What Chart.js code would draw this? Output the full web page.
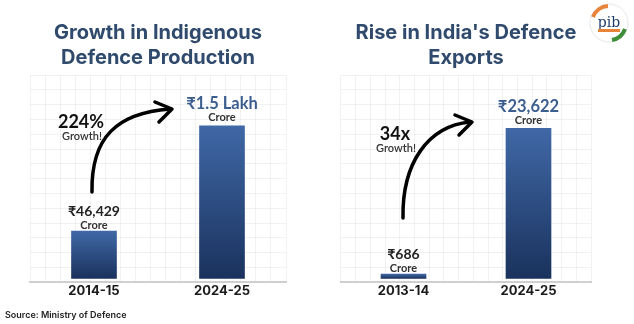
<!DOCTYPE html>
<html lang="en">
<head>
    <meta charset="UTF-8">
    <title>Defence Production and Exports</title>
    <script src="https://cdn.jsdelivr.net/npm/chart.js"></script>
    <style>
        body {
            margin: 0;
            padding: 0;
            background: #ffffff;
            font-family: Inter, "Noto Sans", sans-serif;
        }
        .wrap {
            position: relative;
            width: 634px;
            height: 324px;
            overflow: hidden;
        }
        .panel {
            position: absolute;
            top: 0;
            height: 324px;
        }
        #left { left: 0; width: 317px; }
        #right { left: 314px; width: 294px; }
        .source {
            position: absolute;
            left: 5px;
            top: 309px;
            font-size: 9px;
            font-weight: 600;
            color: #222;
        }
        .logo {
            position: absolute;
            left: 588px;
            top: 2px;
        }
    </style>
</head>
<body>
<div class="wrap">
    <div class="panel" id="left"><canvas id="prodChart"></canvas></div>
    <div class="panel" id="right"><canvas id="exportChart"></canvas></div>
    <div class="source">Source: Ministry of Defence</div>
    <svg class="logo" width="42" height="42" viewBox="0 0 42 42">
        <circle cx="21" cy="21" r="19" fill="#fff" stroke="#e6e6e6" stroke-width="1"/>
        <path d="M5 15 A17 17 0 0 1 20 4" stroke="#e8833a" stroke-width="4" fill="none"/>
        <path d="M37 27 A17 17 0 0 1 24 38" stroke="#3f8f3a" stroke-width="4" fill="none"/>
        <text x="21" y="25" text-anchor="middle" font-family="DejaVu Serif" font-size="14" fill="#1f3a6b">pib</text>
        <rect x="10" y="27" width="22" height="3" fill="#e8833a"/>
    </svg>
</div>

<script>
    // left panel
    const prodYears = ['2014-15', '2024-25'];
    const prodValues = [46429, 150000];          // ₹ crore
    const prodLabels = ['₹46,429', '₹1.5 Lakh'];
    const prodTitle = ['Growth in Indigenous', 'Defence Production'];
    const prodGrowth = ['224%', 'Growth!'];

    // right panel
    const expYears = ['2013-14', '2024-25'];
    const expValues = [686, 23622];              // ₹ crore
    const expLabels = ['₹686', '₹23,622'];
    const expTitle = ["Rise in India's Defence", 'Exports'];
    const expGrowth = ['34x', 'Growth!'];

    const FONT = 'Inter, "Noto Sans", sans-serif';
    const LBL = 'Lato, "Noto Sans", sans-serif';

    function barGradient(ctx) {
        const chart = ctx.chart;
        if (!chart.chartArea) return '#2c4d85';
        const y = chart.scales.y;
        const top = y.getPixelForValue(ctx.raw);
        const bottom = y.getPixelForValue(0);
        const g = chart.ctx.createLinearGradient(0, top, 0, bottom);
        g.addColorStop(0, '#4068a6');
        g.addColorStop(1, '#1a325d');
        return g;
    }

    // value labels, growth note and curved arrow
    const notesPlugin = {
        id: 'notes',
        afterDatasetsDraw(chart, args, opts) {
            const c = chart.ctx;
            const bars = chart.getDatasetMeta(0).data;
            c.save();
            c.textAlign = 'center';
            c.textBaseline = 'middle';
            bars.forEach((bar, i) => {
                const big = i === 1;
                c.fillStyle = big ? '#3b5d8f' : '#222';
                c.font = (big ? '700 16.5px ' : '700 14px ') + LBL;
                c.fillText(opts.labels[i], bar.x, bar.y - (big ? 22 : 20));
                c.fillStyle = '#333';
                c.font = '700 11px ' + LBL;
                c.fillText('Crore', bar.x, bar.y - (big ? 8 : 6));
            });

            // growth note
            c.fillStyle = '#111';
            c.font = '700 18px ' + LBL;
            c.fillText(opts.growth[0], opts.note[0], opts.note[1]);
            c.fillStyle = '#333';
            c.font = '600 11px ' + LBL;
            c.fillText(opts.growth[1], opts.note[0] + 1, opts.note[1] + 14);

            // arrow
            const a = opts.arrow;
            c.strokeStyle = '#000';
            c.lineWidth = 3.5;
            c.lineCap = 'round';
            c.lineJoin = 'round';
            c.beginPath();
            c.moveTo(a.sx, a.sy);
            c.bezierCurveTo(a.sx - 1, a.sy - 55, a.sx + 25, a.ty + 4, a.tx - 2, a.ty);
            c.stroke();
            c.beginPath();
            c.moveTo(a.tx - 17, a.ty - 7);
            c.lineTo(a.tx, a.ty);
            c.lineTo(a.tx - 13, a.ty + 13);
            c.stroke();
            c.restore();
        }
    };

    function makeChart(id, years, values, labels, title, growth, opts) {
        return new Chart(document.getElementById(id), {
            type: 'bar',
            data: {
                labels: years,
                datasets: [{
                    data: values,
                    backgroundColor: barGradient,
                    barThickness: 45
                }]
            },
            options: {
                responsive: false,
                animation: false,
                layout: {
                    padding: { top: 20, left: opts.padL, right: opts.padR, bottom: 24 }
                },
                scales: {
                    x: {
                        grid: { display: false, drawTicks: false },
                        border: { display: true, color: '#cfcfcf', width: 2 },
                        ticks: {
                            padding: 1,
                            color: '#1b1b1b',
                            font: { family: FONT, size: 13, weight: '700' }
                        }
                    },
                    gx: {
                        type: 'linear',
                        position: 'bottom',
                        min: 0,
                        max: 16,
                        ticks: { display: false, stepSize: 1 },
                        border: { display: false },
                        grid: { color: 'rgba(0,0,0,0.05)', drawTicks: false },
                        afterFit(scale) { scale.height = 0; }
                    },
                    y: {
                        min: opts.yMin,
                        max: opts.yMax,
                        ticks: { display: false, stepSize: opts.step },
                        border: { display: false },
                        grid: { color: 'rgba(0,0,0,0.05)', drawTicks: false },
                        afterFit(scale) { scale.width = 0; }
                    }
                },
                plugins: {
                    legend: { display: false },
                    tooltip: { enabled: false },
                    title: {
                        display: true,
                        text: title,
                        color: '#2f4a6c',
                        font: { family: FONT, size: 20, weight: '700', lineHeight: 1.25 },
                        padding: { top: 0, bottom: 5 }
                    },
                    notes: {
                        labels: labels,
                        growth: growth,
                        note: opts.note,
                        arrow: opts.arrow
                    }
                }
            },
            plugins: [notesPlugin]
        });
    }

    function sizeCanvas(id, w) {
        const cv = document.getElementById(id);
        cv.width = w;
        cv.height = 324;
        cv.style.width = w + 'px';
        cv.style.height = '324px';
    }
    sizeCanvas('prodChart', 317);
    sizeCanvas('exportChart', 294);

    makeChart('prodChart', prodYears, prodValues, prodLabels, prodTitle, prodGrowth, {
        padL: 30, padR: 31, yMin: -4000, yMax: 200000, step: 15000,
        note: [81, 122],
        arrow: { sx: 92, sy: 192, tx: 172, ty: 109 }
    });

    makeChart('exportChart', expYears, expValues, expLabels, expTitle, expGrowth, {
        padL: 27, padR: 17, yMin: -630, yMax: 32000, step: 2400,
        note: [81, 134],
        arrow: { sx: 89, sy: 218, tx: 158, ty: 122 }
    });
</script>
</body>
</html>
